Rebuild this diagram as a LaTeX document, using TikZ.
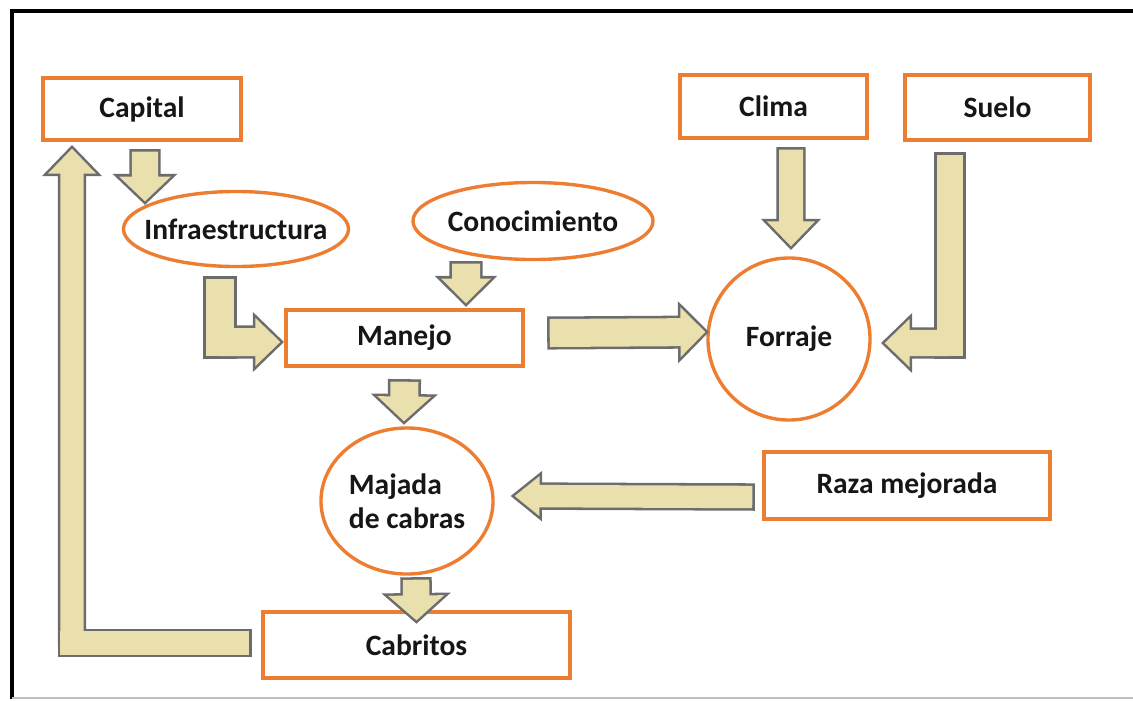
\documentclass[tikz,border=0pt]{standalone}
\usepackage{fontspec}
\setmainfont{Carlito}
\usetikzlibrary{positioning,calc,shapes.geometric}

\definecolor{boxorange}{RGB}{237,125,49}
\definecolor{arrowtan}{RGB}{233,224,174}
\definecolor{arrowgray}{RGB}{108,108,108}
\definecolor{textblack}{RGB}{22,22,22}

\newcommand{\lbl}{\fontsize{21}{24}\selectfont\bfseries}
\newcommand{\headlen}{0.62cm}

% corner points of a block arrow: tail, tip, shaft half width, head half width
\newcommand{\arrowpts}[4]{%
  \coordinate (hb) at ($(#2)!\headlen!(#1)$);
  \coordinate (t1) at ($(#1)!#3!90:(#2)$);
  \coordinate (t2) at ($(#1)!#3!-90:(#2)$);
  \coordinate (s1) at ($(hb)!#3!90:(#2)$);
  \coordinate (s2) at ($(hb)!#3!-90:(#2)$);
  \coordinate (h1) at ($(hb)!#4!90:(#2)$);
  \coordinate (h2) at ($(hb)!#4!-90:(#2)$);
}
\newcommand{\blockarrow}[4]{%
  \arrowpts{#1}{#2}{#3}{#4}
  \draw[arrowline] (t1) -- (s1) -- (h1) -- (#2) -- (h2) -- (s2) -- (t2) -- cycle;
  \fill[arrowfill] (t1) -- (s1) -- (h1) -- (#2) -- (h2) -- (s2) -- (t2) -- cycle;
}
% start, corner, tip, shaft half width, head half width
\newcommand{\elbowarrow}[5]{%
  \arrowpts{#2}{#3}{#4}{#5}
  \coordinate (ke) at ($(#2)!#4!180:(#1)$);
  \coordinate (a1) at ($(#1)!#4!90:(#2)$);
  \coordinate (a2) at ($(#1)!#4!-90:(#2)$);
  \coordinate (k1) at ($(ke)!#4!-90:(#1)$);
  \coordinate (k2) at ($(ke)!#4!90:(#1)$);
  \draw[arrowline] (a1) -- (k1) -- (k2) -- (a2) -- cycle;
  \draw[arrowline] (t1) -- (s1) -- (h1) -- (#3) -- (h2) -- (s2) -- (t2) -- cycle;
  \fill[arrowfill] (a1) -- (k1) -- (k2) -- (a2) -- cycle;
  \fill[arrowfill] (t1) -- (s1) -- (h1) -- (#3) -- (h2) -- (s2) -- (t2) -- cycle;
}

\begin{document}
\begin{tikzpicture}[
    x=0.025cm, y=-0.025cm,
    box/.style={draw=boxorange, line width=2.4pt, fill=white, inner sep=0pt, text=textblack, font=\lbl},
    oval/.style={box, ellipse},
    arrowline/.style={draw=arrowgray, line width=3.6pt, line join=miter},
    arrowfill/.style={fill=arrowtan}
]
\useasboundingbox (0,0) rectangle (1133,700);

% frame
\draw[line width=2.4pt, black] (1133,11) -- (12,11) -- (12,699);
\draw[line width=1pt, black!25] (12,698) -- (1133,698);

% boxes and ovals
\node[box, minimum width=4.95cm, minimum height=1.55cm] (capital) at (142,109) {Capital\hspace{0.5cm}};
\node[box, minimum width=4.675cm, minimum height=1.575cm] (clima) at (773.5,106.5) {Clima};
\node[box, minimum width=4.625cm, minimum height=1.625cm] (suelo) at (997.5,107.5) {Suelo};
\node[oval, minimum width=5.625cm, minimum height=1.875cm, inner xsep=-10pt] (infra) at (236,229) {Infraestructura};
\node[oval, minimum width=6cm, minimum height=1.925cm, inner xsep=-3pt] (conoc) at (533,221) {Conocimiento};
\node[box, minimum width=5.925cm, minimum height=1.4cm] (manejo) at (404.5,338) {Manejo};
\node[oval, circle, minimum size=4.05cm] (forraje) at (789,339) {Forraje};
\node[oval, minimum width=4.3cm, minimum height=3.65cm, align=left] (majada) at (407,501) {Majada\\de cabras};
\node[box, minimum width=7.15cm, minimum height=1.675cm] (raza) at (907,485.5) {Raza mejorada};
\node[box, minimum width=7.675cm, minimum height=1.65cm] (cabritos) at (416.5,645) {Cabritos};

% arrow ends
\coordinate (capout) at ($(capital.south)+(3,10)$);
\coordinate (infin) at ($(infra.north)+(-91,11.5)$);
\coordinate (infout) at ($(infra.south)+(-16,10.5)$);
\coordinate (manin) at ($(manejo.west)+(-4,4)$);
\coordinate (conout) at ($(conoc.south)+(-67,2.5)$);
\coordinate (mantop) at ($(manejo.north)+(61.5,-5)$);
\coordinate (manout) at ($(manejo.east)+(25,-5)$);
\coordinate (forin) at ($(forraje.west)+(-1,-7)$);
\coordinate (climout) at ($(clima.south)+(17.5,10)$);
\coordinate (fortop) at ($(forraje.north)+(2,-10)$);
\coordinate (sueout) at ($(suelo.south)+(-47.5,13)$);
\coordinate (forright) at ($(forraje.east)+(13,4)$);
\coordinate (manbot) at ($(manejo.south)+(0,14)$);
\coordinate (majtop) at ($(majada.north)+(-3,-5)$);
\coordinate (razout) at ($(raza.west)+(-10,11.5)$);
\coordinate (majright) at ($(majada.east)+(20,-5)$);
\coordinate (majout) at ($(majada.south)+(9,4)$);
\coordinate (cabtop) at ($(cabritos.north)+(0,10)$);
\coordinate (cabout) at ($(cabritos.west)+(-12,-2)$);
\coordinate (capin) at ($(capital.south)+(-70,7)$);

% block arrows
\blockarrow{capout}{infin}{0.325cm}{0.65cm}
\elbowarrow{infout}{infout |- manin}{manin}{0.35cm}{0.6cm}
\blockarrow{conout}{mantop}{0.35cm}{0.625cm}
\blockarrow{manout}{forin}{0.35cm}{0.625cm}
\blockarrow{climout}{fortop}{0.3cm}{0.6cm}
\elbowarrow{sueout}{sueout |- forright}{forright}{0.33cm}{0.6cm}
\blockarrow{manbot}{majtop}{0.35cm}{0.675cm}
\blockarrow{razout}{majright}{0.28cm}{0.5cm}
\blockarrow{majout}{cabtop}{0.33cm}{0.7cm}
\elbowarrow{cabout}{capin |- cabout}{capin}{0.29cm}{0.6cm}

\end{tikzpicture}
\end{document}
